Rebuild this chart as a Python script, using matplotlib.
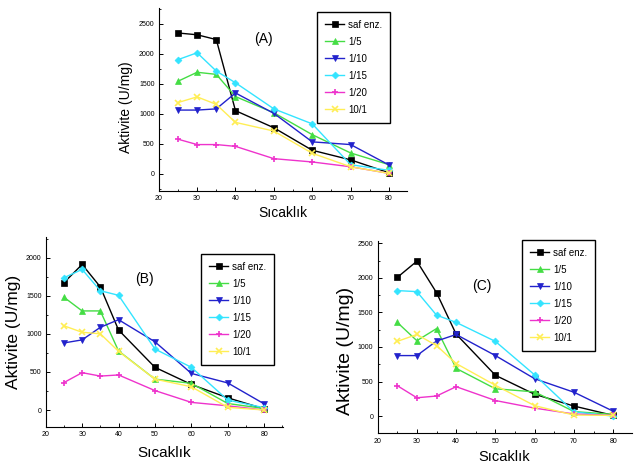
import matplotlib
matplotlib.use('Agg')
import matplotlib.pyplot as plt
from matplotlib.ticker import MultipleLocator

plt.rcParams['font.family'] = ['Liberation Sans', 'DejaVu Sans']

temps = [25, 30, 35, 40, 50, 60, 70, 80]
labels = ['saf enz.', '1/5', '1/10', '1/15', '1/20', '10/1']

# panel A
a_saf = [2350, 2320, 2240, 1055, 770, 395, 235, 20]
a_1_5 = [1545, 1695, 1660, 1290, 1020, 655, 350, 155]
a_1_10 = [1065, 1065, 1085, 1350, 1010, 535, 490, 150]
a_1_15 = [1905, 2020, 1715, 1520, 1085, 835, 155, 60]
a_1_20 = [580, 490, 490, 460, 255, 200, 120, 10]
a_10_1 = [1190, 1285, 1160, 860, 715, 345, 120, 10]

# panel B
b_saf = [1670, 1910, 1615, 1050, 560, 335, 160, 15]
b_1_5 = [1480, 1300, 1300, 775, 405, 350, 85, 20]
b_1_10 = [880, 920, 1085, 1185, 895, 480, 355, 80]
b_1_15 = [1735, 1845, 1565, 1505, 800, 560, 130, 30]
b_1_20 = [360, 490, 445, 460, 255, 100, 55, 0]
b_10_1 = [1105, 1020, 1000, 770, 405, 305, 35, 0]

# panel C
c_saf = [2005, 2240, 1785, 1185, 590, 315, 145, 10]
c_1_5 = [1355, 1090, 1265, 690, 395, 350, 65, 25]
c_1_10 = [875, 875, 1085, 1180, 875, 540, 345, 70]
c_1_15 = [1815, 1800, 1460, 1355, 1080, 595, 60, 0]
c_1_20 = [440, 265, 290, 425, 225, 115, 30, 10]
c_10_1 = [1080, 1180, 1020, 760, 445, 150, 15, 10]

colors = ['black', '#44dd44', '#2222cc', '#33e4ff', '#ee33cc', '#ffee55']
markers = ['s', '^', 'v', 'D', '+', 'x']

panels = [
    ('(A)', [a_saf, a_1_5, a_1_10, a_1_15, a_1_20, a_10_1],
     [0.248, 0.592, 0.388, 0.391], (-283, 2767), 84.7, [0, 500, 1000, 1500, 2000, 2500],
     (47.4, 2250), (317, 12), 10, 10, (-0.105, 0.46), -0.082),
    ('(B)', [b_saf, b_1_5, b_1_10, b_1_15, b_1_20, b_10_1],
     [0.0714, 0.0876, 0.371, 0.406], (-223, 2270), 85.2, [0, 500, 1000, 1500, 2000],
     (47.0, 1720), (201, 254), 12.5, 11, (-0.104, 0.5), -0.10),
    ('(C)', [c_saf, c_1_5, c_1_10, c_1_15, c_1_20, c_10_1],
     [0.590, 0.074, 0.397, 0.410], (-250, 2525), 84.7, [0, 500, 1000, 1500, 2000, 2500],
     (46.5, 1880), (522, 240), 14, 10.5, (-0.093, 0.43), -0.087),
]

fig = plt.figure(figsize=(6.4, 4.68), dpi=100)

for (name, series, rect, ylim, xmax, yticks, lab_pos, leg_pos,
     ylab_fs, xlab_fs, ylab_xy, xlab_y) in panels:
    ax = fig.add_axes(rect)
    for vals, lab, col, mk in zip(series, labels, colors, markers):
        ms = 3.5 if mk == 'D' else 4.5
        ax.plot(temps, vals, color=col, marker=mk, markersize=ms, linewidth=1,
                markeredgewidth=1.2 if mk in '+x' else 0.5, label=lab)
    ax.set_xlim(20, xmax)
    ax.set_ylim(*ylim)
    ax.set_xticks([20, 30, 40, 50, 60, 70, 80])
    ax.set_yticks(yticks)
    ax.xaxis.set_minor_locator(MultipleLocator(5))
    ax.yaxis.set_minor_locator(MultipleLocator(250))
    ax.tick_params(labelsize=5, length=3, width=0.7, direction='in', pad=3)
    ax.tick_params(which='minor', length=1.5, width=0.6, direction='in')
    ax.spines['top'].set_visible(False)
    ax.spines['right'].set_visible(False)
    ax.spines['left'].set_linewidth(0.8)
    ax.spines['bottom'].set_linewidth(0.8)
    ax.set_ylabel('Aktivite (U/mg)', fontsize=ylab_fs)
    ax.set_xlabel('Sıcaklık', fontsize=xlab_fs)
    ax.yaxis.set_label_coords(*ylab_xy)
    ax.xaxis.set_label_coords(0.5, xlab_y)
    ax.text(lab_pos[0], lab_pos[1], name, fontsize=10, ha='center', va='center')
    lx = leg_pos[0] / 640
    ly = 1 - leg_pos[1] / 468
    leg = ax.legend(loc='upper left', bbox_to_anchor=(lx, ly), bbox_transform=fig.transFigure,
                    fontsize=7, fancybox=False, framealpha=1, edgecolor='black',
                    handlelength=2.0, handletextpad=0.4, labelspacing=0.72,
                    borderpad=0.8, borderaxespad=0)
    leg.get_frame().set_linewidth(1.0)

fig.savefig('out.png', dpi=100)
